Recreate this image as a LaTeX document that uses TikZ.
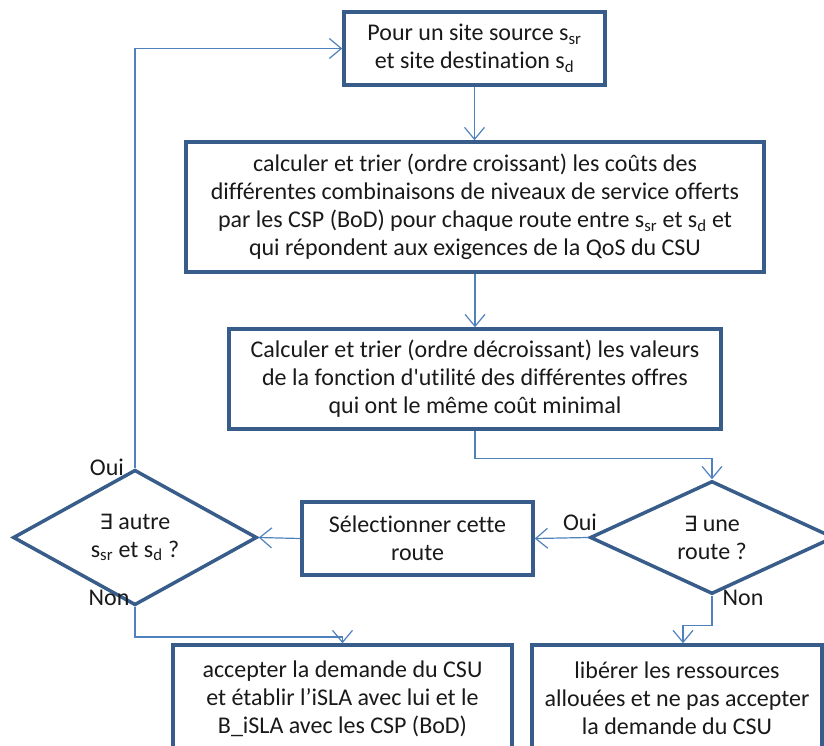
\documentclass[tikz,border=0pt]{standalone}
\usepackage{fontspec}
\setmainfont[Ligatures=NoCommon]{Carlito}
\newfontfamily\dejavu{DejaVu Sans}
\usetikzlibrary{shapes.geometric,arrows.meta}
\definecolor{boxc}{RGB}{56,93,138}
\definecolor{linec}{RGB}{79,129,189}
\definecolor{txtc}{RGB}{25,25,25}
\begin{document}
\begin{tikzpicture}[x=1pt,y=-1pt,
  txt/.style={font=\fontsize{24}{28}\selectfont, text=txtc},
  box/.style={txt, draw=boxc, line width=3.5pt, rectangle, inner sep=0pt, align=center},
  dia/.style={txt, draw=boxc, line width=3.5pt, diamond, inner sep=0pt, minimum width=244pt, minimum height=99pt, align=center},
  conn/.style={draw=linec, line width=1.2pt, -{Straight Barb[length=12pt,width=20pt,line width=1.2pt]}},
  lab/.style={txt, inner sep=0pt}]
\useasboundingbox (0,0) rectangle (824,746);

\node[box, minimum width=261pt, minimum height=73pt] (b1) at (474.5,48.5)
  {Pour un site source s\textsubscript{sr}\\et site destination s\textsubscript{d}};
\node[box, minimum width=578pt, minimum height=130pt] (b2) at (475,207)
  {calculer et trier (ordre croissant) les coûts des\\différentes combinaisons de niveaux de service offerts\\par les CSP (BoD) pour chaque route entre s\textsubscript{sr} et s\textsubscript{d} et\\qui répondent aux exigences de la QoS du CSU};
\node[box, minimum width=492pt, minimum height=100pt] (b3) at (475,379)
  {Calculer et trier (ordre décroissant) les valeurs\\de la fonction d\textquotesingle utilité des différentes offres\\qui ont le même coût minimal};
\node[dia] (d1) at (712,537.5) {{\dejavu\fontsize{21}{28}\selectfont ∃} une\\route ?};
\node[box, minimum width=231pt, minimum height=73pt] (sel) at (417.5,538.5)
  {Sélectionner cette\\route};
\node[dia] (d2) at (135,537.5) {{\dejavu\fontsize{21}{28}\selectfont ∃} autre\\s\textsubscript{sr} et s\textsubscript{d} ?};
\node[box, minimum width=339pt, minimum height=107pt] (acc) at (342.5,698.5)
  {accepter la demande du CSU\\et établir l’iSLA avec lui et le\\B\_iSLA avec les CSP (BoD)};
\node[box, minimum width=290pt, minimum height=107pt] (ref) at (677,698.5)
  {libérer les ressources\\allouées et ne pas accepter\\la demande du CSU};

\coordinate (refin) at ([xshift=6pt]ref.north);

\draw[conn] (b1.south) -- (b1.south |- b2.north);
\draw[conn] (b2.south) -- (b2.south |- b3.north);
\draw[conn] (b3.south) -- ++(0,28) -| (d1.north);
\draw[conn] (d1.west) -- (sel.east);
\draw[conn] (sel.west) -- (d2.east);
\draw[conn] (d2.north) |- (b1.west);
\draw[conn] (d2.south) -- ++(0,30) -| (acc.north);
\draw[conn] (d1.south) -- ++(0,30) -| (refin);

\node[lab] (l1) at (580,522) {Oui};
\node[lab] (l2) at (743,598) {Non};
\node[lab] (l3) at (107,467) {Oui};
\node[lab] (l4) at (109,598) {Non};
\end{tikzpicture}
\end{document}
